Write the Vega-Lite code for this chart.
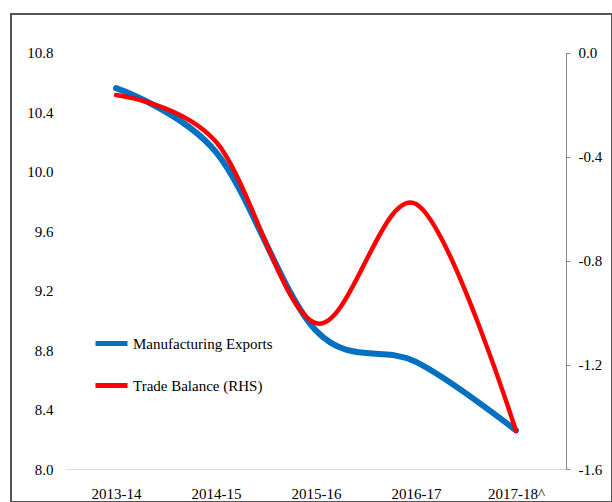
{
  "$schema": "https://vega.github.io/schema/vega-lite/v6.json",
  "autosize": {"type": "none"},
  "padding": {"left": 11, "top": 14, "right": 0, "bottom": 0},
  "width": 601,
  "height": 488,
  "background": "white",
  "config": {
    "view": {"stroke": "#555555", "strokeWidth": 2},
    "font": "Liberation Serif, Times New Roman, serif"
  },
  "data": {
    "values": [
      {"Year": "2013-14", "Series": "Manufacturing Exports", "Value": 10.56},
      {"Year": "2014-15", "Series": "Manufacturing Exports", "Value": 10.13},
      {"Year": "2015-16", "Series": "Manufacturing Exports", "Value": 8.93},
      {"Year": "2016-17", "Series": "Manufacturing Exports", "Value": 8.72},
      {"Year": "2017-18^", "Series": "Manufacturing Exports", "Value": 8.26},
      {"Year": "2013-14", "Series": "Trade Balance (RHS)", "Value": -0.163},
      {"Year": "2014-15", "Series": "Trade Balance (RHS)", "Value": -0.343},
      {"Year": "2015-16", "Series": "Trade Balance (RHS)", "Value": -1.04},
      {"Year": "2016-17", "Series": "Trade Balance (RHS)", "Value": -0.582},
      {"Year": "2017-18^", "Series": "Trade Balance (RHS)", "Value": -1.454}
    ]
  },
  "encoding": {
    "x": {
      "field": "Year",
      "type": "ordinal",
      "sort": null,
      "scale": {"type": "point", "padding": 0.5, "range": [55, 555]},
      "axis": {
        "title": null,
        "labelAngle": 0,
        "offset": -33,
        "domainColor": "#D9D9D9",
        "domainWidth": 1,
        "ticks": false,
        "labelPadding": 17,
        "labelFont": "Liberation Serif, Times New Roman, serif",
        "labelFontSize": 15,
        "labelColor": "#000000",
        "grid": false
      }
    },
    "color": {
      "field": "Series",
      "type": "nominal",
      "scale": {"domain": ["Manufacturing Exports", "Trade Balance (RHS)"], "range": ["#0070C0", "#FF0000"]},
      "legend": {
        "title": null,
        "orient": "none",
        "legendX": 82,
        "legendY": 311,
        "symbolType": "stroke",
        "symbolSize": 1024,
        "symbolStrokeWidth": 5,
        "labelFont": "Liberation Serif, Times New Roman, serif",
        "labelFontSize": 15,
        "labelColor": "#000000",
        "labelOffset": 3,
        "rowPadding": 13,
        "padding": 0
      }
    }
  },
  "layer": [
    {
      "transform": [{"filter": "datum.Series === 'Manufacturing Exports'"}],
      "mark": {"type": "line", "interpolate": "cardinal", "strokeWidth": 6, "strokeCap": "round"},
      "encoding": {
        "y": {
          "field": "Value",
          "type": "quantitative",
          "scale": {"domain": [8.0, 10.8], "range": [455, 38.5], "zero": false, "nice": false},
          "axis": {
            "title": null,
            "orient": "left",
            "offset": -42,
            "domain": false,
            "ticks": false,
            "grid": false,
            "labelPadding": 0,
            "values": [8.0, 8.4, 8.8, 9.2, 9.6, 10.0, 10.4, 10.8],
            "format": ".1f",
            "labelFont": "Liberation Serif, Times New Roman, serif",
            "labelFontSize": 15,
            "labelColor": "#000000"
          }
        }
      }
    },
    {
      "transform": [{"filter": "datum.Series === 'Trade Balance (RHS)'"}],
      "mark": {"type": "line", "interpolate": "cardinal", "strokeWidth": 4.5, "strokeCap": "round"},
      "encoding": {
        "y": {
          "field": "Value",
          "type": "quantitative",
          "scale": {"domain": [-1.6, 0.0], "range": [455, 38.5], "zero": false, "nice": false},
          "axis": {
            "title": null,
            "orient": "right",
            "offset": -46,
            "domain": true,
            "domainColor": "#868686",
            "domainWidth": 1,
            "ticks": true,
            "tickSize": 4,
            "tickColor": "#868686",
            "grid": false,
            "labelPadding": 8,
            "values": [-1.6, -1.2, -0.8, -0.4, 0.0],
            "format": ".1f",
            "labelExpr": "replace(datum.label, '\u2212', '-')",
            "labelFont": "Liberation Serif, Times New Roman, serif",
            "labelFontSize": 15,
            "labelColor": "#000000"
          }
        }
      }
    }
  ],
  "resolve": {"scale": {"y": "independent"}}
}
